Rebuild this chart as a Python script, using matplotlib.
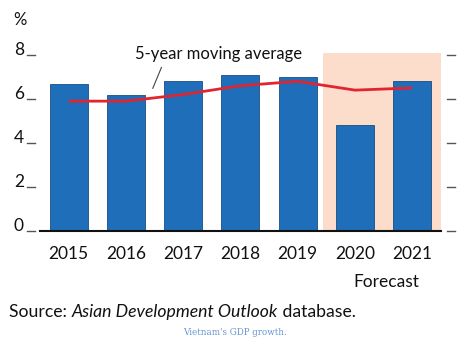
import matplotlib
matplotlib.use("Agg")
import matplotlib.pyplot as plt
import matplotlib.transforms as mtransforms

plt.rcParams['font.family'] = ['Lato', 'DejaVu Sans']

years = ["2015", "2016", "2017", "2018", "2019", "2020", "2021"]
gdp_growth = [6.7, 6.2, 6.8, 7.1, 7.0, 4.8, 6.8]
moving_avg = [5.9, 5.9, 6.2, 6.6, 6.8, 6.4, 6.5]
y_ticks = [0, 2, 4, 6, 8]
forecast_start = 5  # index of first forecast year

BAR = "#1e6eba"
BAR_EDGE = "#1a4d80"
LINE = "#e02530"
SHADE = "#fcdccb"
INK = "#111111"

fig = plt.figure(figsize=(4.74, 3.49), dpi=100)
ax = fig.add_axes([0.0844, 0.338, 0.8456, 0.511])

x = list(range(len(years)))

# forecast band
ax.axvspan(forecast_start - 0.56, len(years) - 0.5, color=SHADE, lw=0, zorder=0)

ax.bar(x, gdp_growth, width=0.665, color=BAR, edgecolor=BAR_EDGE, linewidth=0.6, zorder=2)
ax.plot(x, moving_avg, color=LINE, lw=2.0, solid_joinstyle='round',
        solid_capstyle='butt', zorder=3)

ax.set_xlim(-0.5, len(years) - 0.5)
ax.set_ylim(0, 8.1)

for s in ["top", "right", "left"]:
    ax.spines[s].set_visible(False)
ax.spines["bottom"].set_linewidth(1.5)
ax.spines["bottom"].set_color(INK)
ax.spines["bottom"].set_zorder(4)

ax.set_xticks(x)
ax.set_xticklabels(years, fontsize=12.5, color=INK)
ax.tick_params(axis="x", length=0, pad=11)
ax.set_yticks([])

# y labels sit on the tick value with a short dash on both sides
trans = mtransforms.blended_transform_factory(ax.transAxes, ax.transData)
for v in y_ticks:
    ax.text(-0.04, v, str(v), transform=trans, ha="right", va="baseline",
            fontsize=12.5, color=INK)
    ax.plot([-0.033, -0.013], [v, v], transform=trans, color="#555555",
            lw=1.0, clip_on=False)
    ax.plot([1.015, 1.035], [v, v], transform=trans, color="#555555",
            lw=1.0, clip_on=False)

ax.text(-0.05, 9.6, "%", transform=trans, ha="center", va="center",
        fontsize=12, color=INK)

# moving average callout
ax.annotate("", xy=(1.45, 6.36), xytext=(1.64, 7.55),
            arrowprops=dict(arrowstyle="-", color="#444444", lw=0.8))
ax.text(2.62, 8.05, "5-year moving average", ha="center", va="center",
        fontsize=12, color=INK, zorder=5)

ax.text(5.54, -2.3, "Forecast", ha="center", va="center", fontsize=12.5,
        color=INK)

# source line with italic publication title
y_src = 0.106
src = fig.text(0.019, y_src, "Source: ", ha="left", va="center", fontsize=12.7,
               color=INK)
fig.canvas.draw()
r = fig.canvas.get_renderer()
bb = src.get_window_extent(r)
t2 = fig.text(bb.x1 / fig.bbox.width, y_src, "Asian Development Outlook",
              ha="left", va="center", fontsize=12.7, style="italic", color=INK)
bb2 = t2.get_window_extent(r)
fig.text(bb2.x1 / fig.bbox.width, y_src, " database.", ha="left", va="center",
         fontsize=12.7, color=INK)

fig.text(0.496, 0.046, "Vietnam's GDP growth.", ha="center", va="center",
         fontsize=6.3, family="DejaVu Serif", color="#6797cf")

fig.savefig("out.png", dpi=100)
